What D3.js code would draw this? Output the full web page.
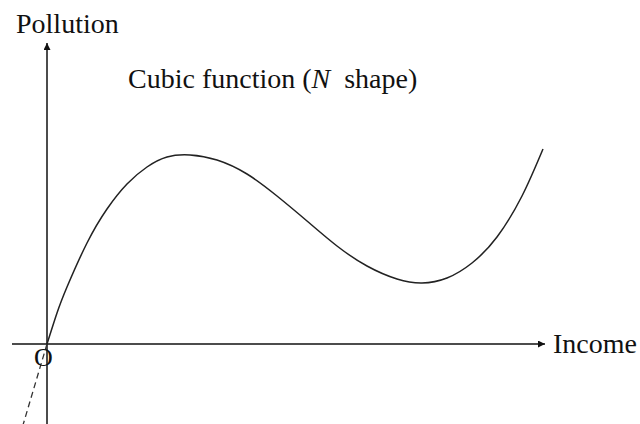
<!DOCTYPE html>
<html>
<head>
<meta charset="utf-8">
<script src="https://cdn.jsdelivr.net/npm/d3@7"></script>
<style>
  html, body { margin: 0; padding: 0; background: #fff; }
  svg { display: block; }
</style>
</head>
<body>
<svg id="chart" width="640" height="424"></svg>
<script>
// Curve (income, pollution) in arbitrary units
const income    = [0, 2, 4, 8, 12, 16, 20, 24, 28.6, 34, 40, 46, 52, 58, 64, 70, 75, 80, 85, 90, 95, 99.2];
const pollution = [0, 6.2, 11.4, 20.2, 27, 32, 35.4, 37.4, 37.8, 36.8, 34, 29.6, 24.6, 19.6, 15.6, 13, 12.2, 13.2, 16.2, 21.4, 29.6, 39];
// Dashed extension below the origin
const extIncome    = [0, -4.8];
const extPollution = [0, -16.2];
// Axis extents
const xAxisExtent = [-7, 99.6];
const yAxisExtent = [-16.2, 60.2];
const labels = { y: "Pollution", x: "Income", title: "Cubic function (", titleN: "N", titleEnd: "  shape)", origin: "O" };

const FONT = "'Liberation Serif', 'Times New Roman', Times, 'DejaVu Serif', serif";
const svg = d3.select("#chart");
const x = d3.scaleLinear().domain([0, 100]).range([47, 547]);
const y = d3.scaleLinear().domain([0, 60]).range([344, 44]);

// arrow marker
const defs = svg.append("defs");
defs.append("marker").attr("id", "arrow")
  .attr("viewBox", "0 0 10 10").attr("refX", 10).attr("refY", 5)
  .attr("markerWidth", 9).attr("markerHeight", 7).attr("markerUnits", "userSpaceOnUse")
  .attr("orient", "auto")
  .append("path").attr("d", "M0,0 L10,5 L0,10 z").attr("fill", "#111");

// x axis
svg.append("line")
  .attr("x1", x(xAxisExtent[0])).attr("y1", y(0))
  .attr("x2", x(xAxisExtent[1])).attr("y2", y(0))
  .attr("stroke", "#111").attr("stroke-width", 1.5)
  .attr("marker-end", "url(#arrow)");
// y axis
svg.append("line")
  .attr("x1", x(0)).attr("y1", y(yAxisExtent[0]) + 2)
  .attr("x2", x(0)).attr("y2", y(yAxisExtent[1]))
  .attr("stroke", "#111").attr("stroke-width", 1.5)
  .attr("marker-end", "url(#arrow)");

// curve
const pts = income.map((d, i) => [d, pollution[i]]);
const line = d3.line().x(d => x(d[0])).y(d => y(d[1])).curve(d3.curveNatural);
svg.append("path").attr("d", line(pts))
  .attr("fill", "none").attr("stroke", "#222").attr("stroke-width", 1.5);

// dashed extension
const ext = extIncome.map((d, i) => [d, extPollution[i]]);
svg.append("path").attr("d", d3.line().x(d => x(d[0])).y(d => y(d[1]))(ext))
  .attr("fill", "none").attr("stroke", "#333").attr("stroke-width", 1.3)
  .attr("stroke-dasharray", "6,4");

// labels
function txt(xp, yp, s) {
  return svg.append("text").attr("x", xp).attr("y", yp)
    .attr("font-family", FONT).attr("font-size", 28).attr("fill", "#111").text(s);
}
txt(16, 33, labels.y);
txt(553, 353, labels.x);
const t = txt(128, 88, null).attr("xml:space", "preserve").style("white-space", "pre");
t.append("tspan").text(labels.title);
t.append("tspan").attr("font-style", "italic").text(labels.titleN);
t.append("tspan").text(labels.titleEnd);
txt(34, 366, labels.origin).attr("font-size", 26);
</script>
</body>
</html>
